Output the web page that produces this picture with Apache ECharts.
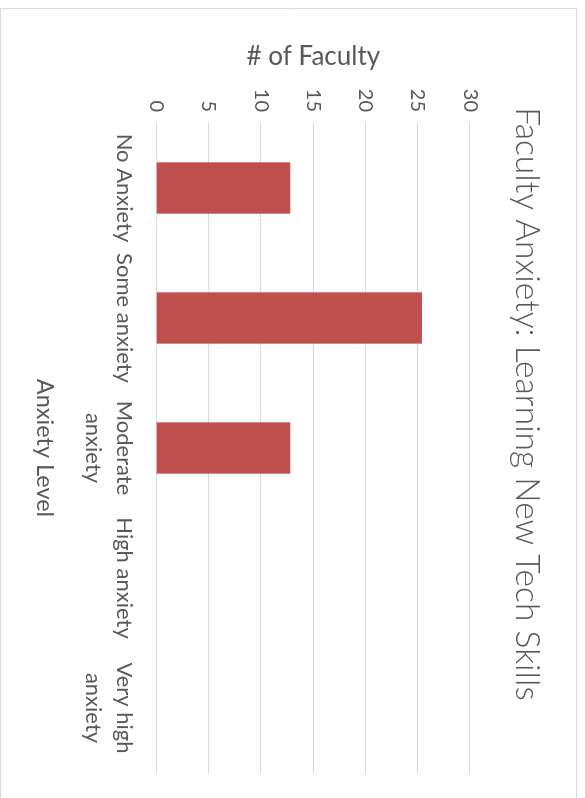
<!DOCTYPE html>
<html>
<head>
<meta charset="utf-8">
<script src="https://cdn.jsdelivr.net/npm/echarts@6/dist/echarts.min.js"></script>
<style>
  html, body { margin: 0; padding: 0; background: #ffffff; overflow: hidden; }
  #wrap { position: absolute; left: 0; top: 0; width: 798px; height: 585px;
          transform-origin: 0 0; transform: translate(585px, 0) rotate(90deg); }
  #chart { width: 798px; height: 585px; }
</style>
</head>
<body>
<div id="wrap"><div id="chart"></div></div>
<script>
const chartTitle = 'Faculty Anxiety: Learning New Tech Skills';
const categories = ['No Anxiety', 'Some anxiety', 'Moderate\nanxiety', 'High anxiety', 'Very high\nanxiety'];
const facultyCounts = [12.8, 25.4, 12.8, 0, 0];
const valueAxisName = '# of Faculty';
const categoryAxisName = 'Anxiety Level';
const valueMin = 0, valueMax = 30, valueStep = 5;

const FONT = 'Lato, "Open Sans", "DejaVu Sans", sans-serif';
const TEXT = '#595959';
const GRID = '#d9d9d9';

const chart = echarts.init(document.getElementById('chart'), null, { renderer: 'canvas' });
chart.setOption({
  backgroundColor: '#ffffff',
  animation: false,
  graphic: [{
    type: 'rect',
    shape: { x: 8.5, y: 8.5, width: 900, height: 576 },
    style: { fill: 'none', stroke: GRID, lineWidth: 1 },
    silent: true
  }, {
    type: 'text',
    x: 404, y: 58,
    style: {
      text: chartTitle, fontFamily: FONT, fontSize: 33.6, fontWeight: 300, fill: TEXT,
      textAlign: 'center', textVerticalAlign: 'middle'
    },
    silent: true
  }],
  grid: { left: 123, right: 25, top: 115, bottom: 156.7, containLabel: false },
  xAxis: {
    type: 'category',
    data: categories,
    name: categoryAxisName,
    nameLocation: 'middle',
    nameGap: 100,
    nameTextStyle: { fontFamily: FONT, fontSize: 23.5, color: TEXT },
    axisTick: { show: false },
    axisLine: { show: true, lineStyle: { color: GRID, width: 1 } },
    axisLabel: { interval: 0, margin: 17, fontFamily: FONT, fontSize: 22, color: TEXT, lineHeight: 31 }
  },
  yAxis: {
    type: 'value',
    min: valueMin, max: valueMax, interval: valueStep,
    name: valueAxisName,
    nameLocation: 'middle',
    nameRotate: 90,
    nameGap: 53,
    nameTextStyle: { fontFamily: FONT, fontSize: 26, color: TEXT },
    axisLine: { show: false },
    axisTick: { show: false },
    axisLabel: { margin: 11, fontFamily: FONT, fontSize: 20, color: TEXT },
    splitLine: { show: true, lineStyle: { color: GRID, width: 1 } }
  },
  series: [{
    type: 'bar',
    data: facultyCounts,
    barWidth: '39.5%',
    itemStyle: { color: '#c0504d' }
  }]
});
</script>
</body>
</html>
